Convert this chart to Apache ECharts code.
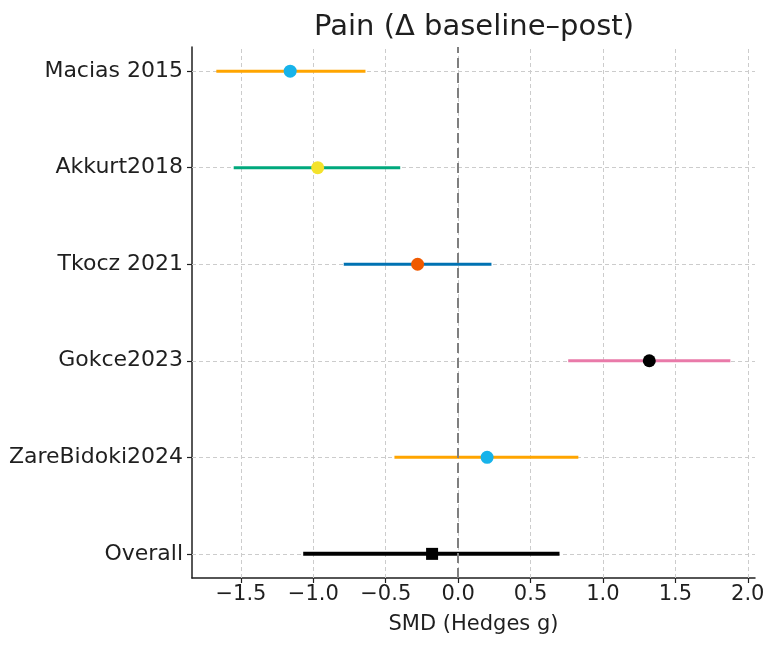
<!DOCTYPE html>
<html>
<head>
<meta charset="utf-8">
<script src="https://cdn.jsdelivr.net/npm/echarts@6/dist/echarts.min.js"></script>
<style>html,body{margin:0;padding:0;background:#fff}#c{width:776px;height:646px}</style>
</head>
<body>
<div id="c"></div>
<script>
const studies = ['Macias 2015', 'Akkurt2018', 'Tkocz 2021', 'Gokce2023', 'ZareBidoki2024', 'Overall'];
const est   = [-1.16, -0.97, -0.28, 1.32, 0.20, -0.18];
const lower = [-1.67, -1.55, -0.79, 0.76, -0.44, -1.07];
const upper = [-0.64, -0.40, 0.23, 1.88, 0.83, 0.70];
const xTicks = [-1.5, -1.0, -0.5, 0.0, 0.5, 1.0, 1.5, 2.0];

const lineColors = ['#FFA500', '#00A87C', '#0072B2', '#E97AA9', '#FFA500', '#000000'];
const dotColors  = ['#17B3EA', '#F4E22C', '#F05A00', '#000000', '#17B3EA', '#000000'];

const n = studies.length;
const rowOf = i => n - 1 - i;
const rows = studies.map((s, i) => rowOf(i));
const FONT = 'DejaVu Sans';
const TXT = '#1f1f1f';

const series = [];
// grid lines (below everything)
series.push({
  type: 'line', data: [], silent: true, z: 1,
  markLine: {
    silent: true, symbol: 'none', animation: false, label: {show: false}, z: 1,
    lineStyle: {color: '#cccccc', width: 1, type: [4, 3]},
    data: xTicks.map(v => ({xAxis: v})).concat(rows.map(r => ({yAxis: r})))
  }
});
studies.forEach((s, i) => {
  const r = rowOf(i);
  series.push({
    type: 'line', z: 3, symbol: 'none', silent: true,
    data: [[lower[i], r], [upper[i], r]],
    lineStyle: {color: lineColors[i], width: i === n - 1 ? 4 : 3, cap: 'butt'}
  });
});
// zero line
series.push({
  type: 'line', data: [], silent: true, z: 4,
  markLine: {
    silent: true, symbol: 'none', animation: false, label: {show: false}, z: 4,
    lineStyle: {color: '#7f7f7f', width: 2, type: [10, 5]},
    data: [{xAxis: 0}]
  }
});
studies.forEach((s, i) => {
  const r = rowOf(i);
  const overall = i === n - 1;
  series.push({
    type: 'scatter', z: 6, silent: true,
    symbol: overall ? 'rect' : 'circle',
    symbolSize: overall ? 12 : 13,
    data: [[est[i], r]],
    itemStyle: {color: dotColors[i], opacity: 1}
  });
});

const chart = echarts.init(document.getElementById('c'));
chart.setOption({
  animation: false,
  backgroundColor: '#ffffff',
  title: {
    text: 'Pain (Δ baseline–post)',
    left: 469, top: 8, textAlign: 'center',
    textStyle: {fontFamily: FONT, fontSize: 29, fontWeight: 'normal', color: TXT}
  },
  grid: {left: 192, right: 21, top: 47, bottom: 68},
  xAxis: {
    type: 'value', min: -1.838, max: 2.05,
    name: 'SMD (Hedges g)', nameLocation: 'middle', nameGap: 36,
    nameTextStyle: {fontFamily: FONT, fontSize: 21, color: TXT},
    axisLine: {show: true, onZero: false, lineStyle: {color: TXT, width: 1.5}},
    axisTick: {show: true, length: 5, customValues: xTicks, lineStyle: {color: TXT, width: 1.2}},
    axisLabel: {
      customValues: xTicks, margin: 6,
      fontFamily: FONT, fontSize: 21, color: TXT,
      formatter: v => (v < 0 ? '\u2212' : '') + Math.abs(v).toFixed(1)
    },
    splitLine: {show: false}
  },
  yAxis: {
    type: 'value', min: -0.25, max: n - 0.75,
    axisLine: {show: true, onZero: false, lineStyle: {color: TXT, width: 1.5}},
    axisTick: {show: true, length: 5, customValues: rows, lineStyle: {color: TXT, width: 1.2}},
    axisLabel: {
      customValues: rows, margin: 9,
      fontFamily: FONT, fontSize: 22, color: TXT,
      formatter: v => studies[n - 1 - Math.round(v)]
    },
    splitLine: {show: false}
  },
  series: series
});
</script>
</body>
</html>
